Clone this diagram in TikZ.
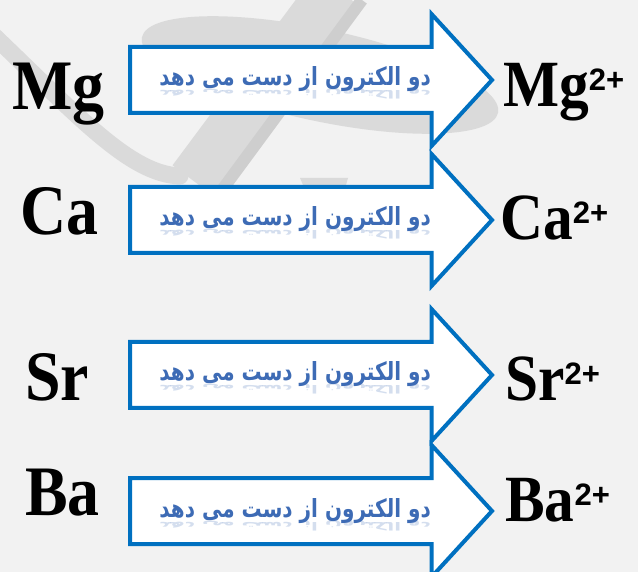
\documentclass[tikz,border=0pt]{standalone}
\usepackage{fontspec}
\setmainfont{Liberation Serif}
\setsansfont{Liberation Sans}
\newfontfamily\elemfont[FakeStretch=0.9]{Liberation Serif}
\newfontfamily\farsifont[Script=Arabic,FakeStretch=0.8]{DejaVu Sans}
\TeXXeTstate=1
\usepackage{tikz}
\usetikzlibrary{shapes.arrows,positioning}
\definecolor{bgray}{HTML}{F2F2F2}
\definecolor{wgray}{HTML}{DADADA}
\definecolor{wgrayd}{HTML}{CECECE}
\definecolor{ablue}{HTML}{0070C0}
\definecolor{tblue}{HTML}{3D6BB5}
\tikzset{
  % white block arrow with a blue rim
  loss/.style   = {single arrow, draw=ablue, fill=white, line width=4pt,
                   text height=31pt, text depth=31pt, text width=0pt,
                   minimum width=128pt, minimum height=362pt,
                   single arrow head extend=33pt, single arrow tip angle=95,
                   inner sep=0pt, outer sep=0pt, anchor=tail},
  elem/.style   = {font=\elemfont\bfseries\fontsize{71}{71}\selectfont,
                   inner sep=0pt, anchor=base west},
  ion/.style    = {font=\elemfont\bfseries\fontsize{66}{66}\selectfont,
                   inner sep=0pt, anchor=base west},
  fa/.style     = {font=\farsifont\bfseries\fontsize{25}{25}\selectfont,
                   text=tblue, inner sep=0pt, anchor=base east},
  faecho/.style = {fa, opacity=0.22, yscale=-0.45, transform shape},
}
\newcommand{\ionch}{\raisebox{16pt}{\sffamily\bfseries\fontsize{31}{31}\selectfont 2+}}
\newcommand{\twoloss}{\beginR دو الکترون از دست می دهد\endR}

\begin{document}
\begin{tikzpicture}[x=1pt,y=-1pt]
\useasboundingbox (0,0) rectangle (638,572);
% background with the faint watermark
\fill[bgray] (0,0) rectangle (638,572);
\begin{scope}
  \clip (0,0) rectangle (638,572);
  \draw[wgray, line width=17pt, line cap=round] (-10,32) .. controls (80,118) and (130,174) .. (180,176);
  \fill[wgray, rotate around={-12:(320,75)}] (320,75) ellipse (182 and 46);
  \draw[wgray, line width=56pt] (195,182) -- (338,-10);
  \draw[wgrayd, line width=12pt] (222,190) -- (362,0);
  \fill[wgray] (300,178) -- (348,178) -- (344,192) -- (306,192) -- cycle;
\end{scope}
% arrows
\node[loss] (mgarr) at (130,80) {};
\node[loss] (caarr) at (130,220) {};
\node[loss] (srarr) at (130,375) {};
\node[loss] (baarr) at (130,511) {};
% text in the arrows
\node[fa] (mgtxt) at (431,86) {\twoloss};
\node[fa] (catxt) at (431,226) {\twoloss};
\node[fa] (srtxt) at (431,381) {\twoloss};
\node[fa] (batxt) at (431,517) {\twoloss};
\node[faecho] (mgecho) at (431,91) {\twoloss};
\node[faecho] (caecho) at (431,231) {\twoloss};
\node[faecho] (srecho) at (431,386) {\twoloss};
\node[faecho] (baecho) at (431,522) {\twoloss};
% atoms
\node[elem] (mg) at (12,110) {Mg};
\node[elem] (ca) at (20,235) {Ca};
\node[elem] (sr) at (25,400) {Sr};
\node[elem] (ba) at (25,515) {Ba};
% ions
\node[ion] (mgion) at (503,107) {Mg\ionch};
\node[ion] (caion) at (500,240) {Ca\ionch};
\node[ion] (srion) at (505,400) {Sr\ionch};
\node[ion] (baion) at (505,521) {Ba\ionch};
\end{tikzpicture}
\end{document}
